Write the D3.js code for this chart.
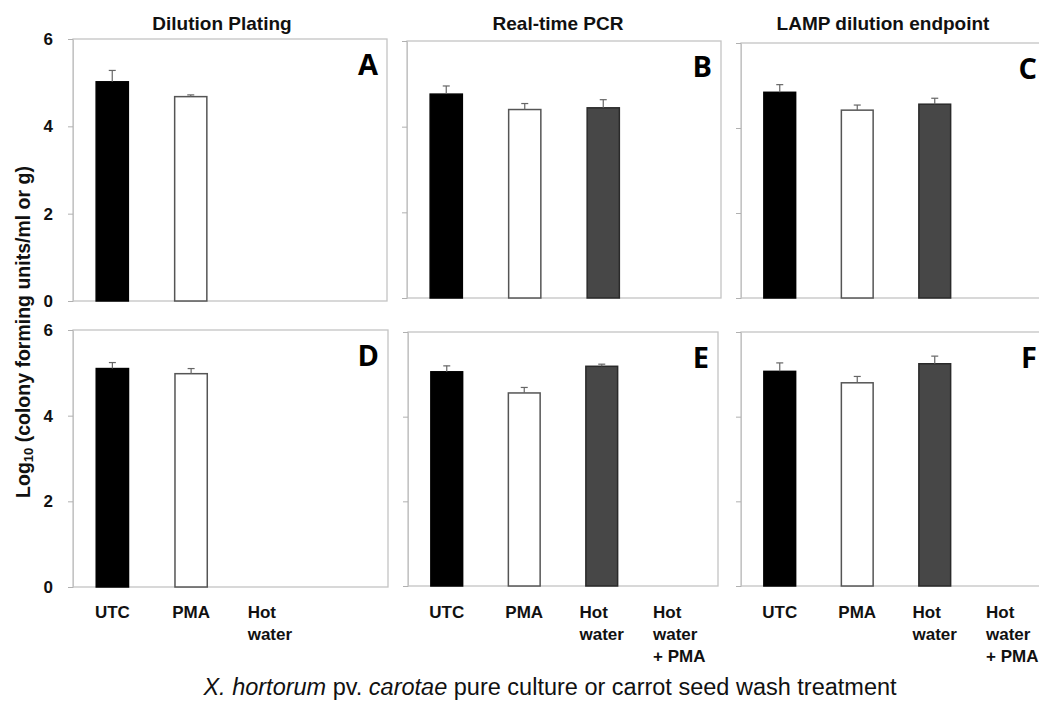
<!DOCTYPE html>
<html><head><meta charset="utf-8">
<script src="https://cdn.jsdelivr.net/npm/d3@7"></script>
<style>body{margin:0;background:#fff;}svg{display:block;font-family:"Liberation Sans",Arial,sans-serif;}</style>
</head><body><svg id="c" width="1039" height="705"></svg>
<script>
// ---- data ----
const categories = ["UTC", "PMA", "Hot water", "Hot water + PMA"];
const methods = ["Dilution Plating", "Real-time PCR", "LAMP dilution endpoint"];
const panelLetters = ["A", "B", "C", "D", "E", "F"];
const yTicks = [0, 2, 4, 6];
const meanA = [5.02, 4.68];       const errA = [0.26, 0.04];
const meanB = [4.76, 4.40, 4.44]; const errB = [0.19, 0.14, 0.19];
const meanC = [4.84, 4.42, 4.56]; const errC = [0.18, 0.12, 0.14];
const meanD = [5.10, 4.98];       const errD = [0.14, 0.12];
const meanE = [5.06, 4.56, 5.19]; const errE = [0.14, 0.13, 0.05];
const meanF = [5.07, 4.80, 5.25]; const errF = [0.20, 0.15, 0.18];
const labelsD = ["UTC", "PMA", "Hot water"];
const labelsE = ["UTC", "PMA", "Hot water", "Hot water + PMA"];
const labelsF = ["UTC", "PMA", "Hot water", "Hot water + PMA"];
const yTitle = ["Log", "10", " (colony forming units/ml or g)"];
const xTitle = [["X. hortorum", true], [" pv. ", false], ["carotae", true], [" pure culture or carrot seed wash treatment", false]];

// ---- layout ----
const panels = [
  {l: 73,  r: 387,  t: 39,  b: 301, mean: meanA, err: errA, labels: null,    yl: true,  title: methods[0], tx: 222},
  {l: 407, r: 721,  t: 41,  b: 298, mean: meanB, err: errB, labels: null,    yl: false, title: methods[1], tx: 558},
  {l: 741, r: 1051, t: 43,  b: 298, mean: meanC, err: errC, labels: null,    yl: false, title: methods[2], tx: 883},
  {l: 73,  r: 388,  t: 330, b: 587, mean: meanD, err: errD, labels: labelsD, yl: true},
  {l: 408, r: 718,  t: 332, b: 586, mean: meanE, err: errE, labels: labelsE, yl: false},
  {l: 741, r: 1051, t: 332, b: 586, mean: meanF, err: errF, labels: labelsF, yl: false}
];
const fills = ["#000000", "#ffffff", "#474747"];
const strokes = ["#000000", "#555555", "#2a2a2a"];

const svg = d3.select("#c");

panels.forEach((p, i) => {
  const x = d3.scaleBand().domain(categories).range([p.l, p.r]).padding(0);
  const y = d3.scaleLinear().domain([0, 6]).range([p.b, p.t]);
  const g = svg.append("g");
  // frame
  g.append("rect").attr("x", p.l).attr("y", p.t).attr("width", p.r - p.l).attr("height", p.b - p.t)
    .attr("fill", "none").attr("stroke", "#c4c4c4").attr("stroke-width", 1.3);
  // y axis
  const ax = g.append("g").attr("transform", `translate(${p.l},0)`)
    .call(d3.axisLeft(y).tickValues(yTicks).tickSize(5).tickFormat(p.yl ? d3.format("d") : ""));
  ax.select(".domain").attr("stroke", "#c4c4c4");
  ax.selectAll(".tick line").attr("stroke", "#b0b0b0");
  ax.selectAll(".tick text").attr("font-size", 17).attr("font-weight", "bold").attr("fill", "#111")
    .attr("x", -20).attr("font-family", "Liberation Sans, Arial, sans-serif");
  // bars
  const bw = x.bandwidth() * 0.41;
  const data = p.mean.map((m, k) => ({c: categories[k], m, e: p.err[k], k}));
  g.selectAll("rect.bar").data(data).join("rect").attr("class", "bar")
    .attr("x", d => x(d.c) + x.bandwidth() / 2 - bw / 2)
    .attr("y", d => y(d.m)).attr("width", bw).attr("height", d => y(0) - y(d.m))
    .attr("fill", d => fills[d.k]).attr("stroke", d => strokes[d.k]).attr("stroke-width", 1.5);
  // error bars
  const eb = g.selectAll("g.eb").data(data).join("g").attr("class", "eb");
  eb.append("line").attr("x1", d => x(d.c) + x.bandwidth() / 2).attr("x2", d => x(d.c) + x.bandwidth() / 2)
    .attr("y1", d => y(d.m)).attr("y2", d => y(d.m + d.e)).attr("stroke", "#666").attr("stroke-width", 1.2);
  eb.append("line").attr("x1", d => x(d.c) + x.bandwidth() / 2 - 3.5).attr("x2", d => x(d.c) + x.bandwidth() / 2 + 3.5)
    .attr("y1", d => y(d.m + d.e)).attr("y2", d => y(d.m + d.e)).attr("stroke", "#666").attr("stroke-width", 1.2);
  // panel letter
  g.append("text").attr("x", Math.min(p.r - 9, 1037)).attr("y", p.t + 36).attr("text-anchor", "end")
    .attr("font-family", "Open Sans, sans-serif").attr("font-weight", "bold").attr("font-size", 29)
    .attr("fill", "#000").text(panelLetters[i]);
  // method title
  if (p.title) {
    g.append("text").attr("x", p.tx).attr("y", 30).attr("text-anchor", "middle")
      .attr("font-weight", "bold").attr("font-size", 19).attr("fill", "#111").text(p.title);
  }
  // x labels
  if (p.labels) {
    p.labels.forEach(lab => {
      const lines = lab.replace("Hot water + PMA", "Hot|water|+ PMA").replace("Hot water", "Hot|water").split("|");
      const t = g.append("text").attr("font-weight", "bold").attr("font-size", 17).attr("fill", "#111");
      lines.forEach((ln, j) => t.append("tspan").attr("x", 0).attr("y", 618 + j * 22).text(ln));
      const w = d3.max(t.selectAll("tspan").nodes(), n => n.getComputedTextLength());
      t.selectAll("tspan").attr("x", x(lab) + x.bandwidth() / 2 - w / 2);
    });
  }
});

// y axis title
const yt = svg.append("text").attr("transform", "translate(30,332) rotate(-90)").attr("text-anchor", "middle")
  .attr("font-weight", "bold").attr("font-size", 19.5).attr("fill", "#111");
yt.append("tspan").text(yTitle[0]);
yt.append("tspan").attr("font-size", 13).attr("dy", 3).text(yTitle[1]);
yt.append("tspan").attr("dy", -3).text(yTitle[2]);

// x axis title
const xt = svg.append("text").attr("x", 550).attr("y", 695).attr("text-anchor", "middle")
  .attr("font-size", 23.5).attr("fill", "#111");
xTitle.forEach(([s, it]) => xt.append("tspan").attr("font-style", it ? "italic" : "normal").text(s));
</script></body></html>
